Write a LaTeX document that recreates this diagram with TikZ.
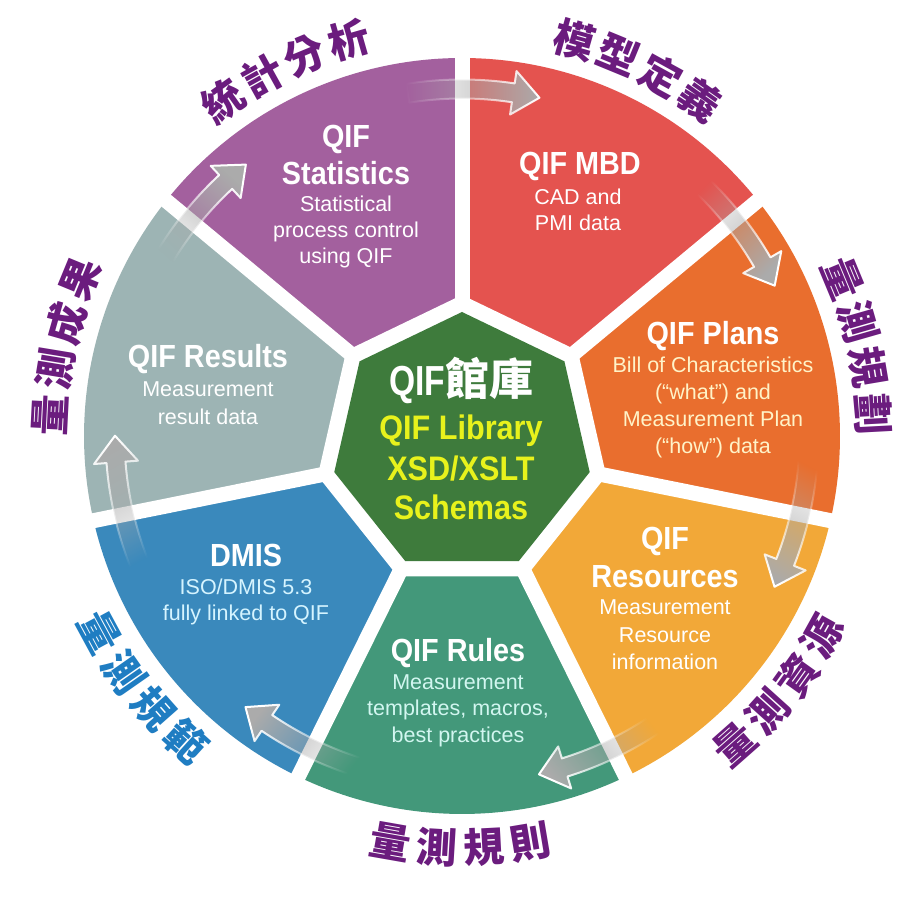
\documentclass[tikz,border=0pt]{standalone}
\usepackage{fontspec}
\setmainfont{Liberation Sans}
\newfontfamily\titlef[FakeStretch=0.9]{Liberation Sans}
\newfontfamily\ctitlef[FakeStretch=0.8]{Liberation Sans}
\newfontfamily\cjkf{Noto Sans CJK TC}
\usetikzlibrary{fadings}
\definecolor{cstat}{HTML}{A3609E}
\definecolor{cmbd}{HTML}{E4534F}
\definecolor{cplans}{HTML}{E96E2E}
\definecolor{cres}{HTML}{F2A838}
\definecolor{crules}{HTML}{43987A}
\definecolor{cdmis}{HTML}{3A89BC}
\definecolor{cresults}{HTML}{9DB4B4}
\definecolor{ccenter}{HTML}{3E7B3C}
\definecolor{cyel}{HTML}{E8F21C}
\definecolor{clab}{HTML}{6B1C7E}
\definecolor{cblue}{HTML}{1F7DC2}
\definecolor{arrgray}{HTML}{ABABAB}
\definecolor{tyel}{HTML}{FFF3C8}
\definecolor{tcyan}{HTML}{D2F6F0}
\definecolor{tcyanb}{HTML}{D5F4FF}
\tikzfading[name=arrfade, left color=transparent!100, middle color=transparent!40, right color=transparent!0]
\tikzset{
 ttl/.style={font=\titlef\bfseries\fontsize{32}{36}\selectfont, text=white, anchor=base, inner sep=0pt},
 bdy/.style={font=\fontsize{21.5}{26}\selectfont, text=white, anchor=base, inner sep=0pt},
 ctr/.style={font=\titlef\bfseries\fontsize{34}{38}\selectfont, text=cyel, anchor=base, inner sep=0pt},
 lab/.style={font=\cjkf\bfseries\fontsize{41}{45}\selectfont, text=clab, inner sep=0pt},
 arrowshape/.style={fill=arrgray, draw=white, line width=2pt, line join=round},
}
\newcommand\mkarclabel[5]{%
 \foreach \ch [count=\i] in {#5} {
   \pgfmathsetmacro\ang{#2 - #3*(\i-2.5)*6.5}
   \pgfmathsetmacro\rot{\ang - #3*90}
   \node[lab, text=#4, rotate=\rot] (#1-\i) at (\ang:412) {\ch};
 }}
\begin{document}
\begin{tikzpicture}[x=1pt,y=1pt]
\fill[white] (0,0) rectangle (900,900);
\useasboundingbox (0,0) rectangle (900,900);
\begin{scope}[shift={(462,464)}]
 % sectors
 \foreach \a/\b/\c in {90/38.571/cmbd, 38.571/-12.857/cplans, -12.857/-64.286/cres,
   -64.286/-115.714/crules, -115.714/-167.143/cdmis, -167.143/-218.571/cresults, -218.571/-270/cstat}
   \fill[\c] (0,-7) -- (\a:378) arc[start angle=\a, end angle=\b, radius=378] -- cycle;
 % dividers
 \foreach \a in {90,38.571,-12.857,-64.286,-115.714,-167.143,-218.571}
   \draw[white, line width=15pt] ([shift={(0,-7)}]\a:131) -- (\a:400);
 % heptagon band and core
 \fill[white] ([shift={(0,-7)}]90:148) \foreach \k in {1,...,6} { -- ([shift={(0,-7)}]{90+\k*360/7}:148) } -- cycle;
 \fill[ccenter] ([shift={(0,-7)}]90:131) \foreach \k in {1,...,6} { -- ([shift={(0,-7)}]{90+\k*360/7}:131) } -- cycle;
 % arrows
 \foreach \d in {90,38.571,-12.857,-64.286,-115.714,-167.143,-218.571} {
   \pgfmathsetmacro\ta{\d+9}
   \pgfmathsetmacro\hb{\d-8.5}
   \pgfmathsetmacro\tp{\d-12.9}
   \pgfmathsetmacro\fa{\d-90}
   \path[arrowshape, path fading=arrfade, fading angle=\fa]
     (\ta:356.5) arc[start angle=\ta, end angle=\hb, radius=356.5]
     -- (\hb:369) -- (\tp:347) -- (\hb:325) -- (\hb:337.5)
     arc[start angle=\hb, end angle=\ta, radius=337.5] -- cycle;
 }
 % outer labels
 \mkarclabel{lstat}{115.7}{1}{clab}{統,計,分,析}
 \mkarclabel{lmbd}{64.4}{1}{clab}{模,型,定,義}
 \mkarclabel{lplan}{12.8}{1}{clab}{量,測,規,劃}
 \mkarclabel{lres}{-38.8}{-1}{clab}{量,測,資,源}
 \mkarclabel{lrule}{-90.2}{-1}{clab}{量,測,規,則}
 \mkarclabel{ldmis}{-141.8}{-1}{cblue}{量,測,規,範}
 \mkarclabel{lresu}{167.4}{1}{clab}{量,測,成,果}
\end{scope}
% Statistics
\node[ttl] (s1) at (346,752) {QIF};
\node[ttl] (s2) at (346,715) {Statistics};
\node[bdy] (s3) at (346,688) {Statistical};
\node[bdy] (s4) at (346,662) {process control};
\node[bdy] (s5) at (346,636) {using QIF};
% MBD
\node[ttl] (m1) at (580,725) {QIF MBD};
\node[bdy] (m2) at (578,695) {CAD and};
\node[bdy] (m3) at (578,669) {PMI data};
% Plans
\node[ttl] (p1) at (713,555) {QIF Plans};
\node[bdy, text=tyel] (p2) at (713,527) {Bill of Characteristics};
\node[bdy, text=tyel] (p3) at (713,500.5) {(“what”) and};
\node[bdy, text=tyel] (p4) at (713,473) {Measurement Plan};
\node[bdy, text=tyel] (p5) at (713,446) {(“how”) data};
% Resources
\node[ttl] (r1) at (665,350) {QIF};
\node[ttl] (r2) at (665,312) {Resources};
\node[bdy] (r3) at (665,285) {Measurement};
\node[bdy] (r4) at (665,257) {Resource};
\node[bdy] (r5) at (665,230) {information};
% Rules
\node[ttl] (u1) at (458,238) {QIF Rules};
\node[bdy, text=tcyan] (u2) at (458,210) {Measurement};
\node[bdy, text=tcyan] (u3) at (458,184) {templates, macros,};
\node[bdy, text=tcyan] (u4) at (458,157) {best practices};
% DMIS
\node[ttl] (d1) at (246,333) {DMIS};
\node[bdy, text=tcyanb] (d2) at (246,305) {ISO/DMIS 5.3};
\node[bdy, text=tcyanb] (d3) at (246,279) {fully linked to QIF};
% Results
\node[ttl] (q1) at (208,532) {QIF Results};
\node[bdy] (q2) at (208,503) {Measurement};
\node[bdy] (q3) at (208,475) {result data};
% Center
\node[anchor=base, inner sep=0pt, text=white] (c1) at (461,504)
  {{\ctitlef\bfseries\fontsize{42}{46}\selectfont QIF}{\cjkf\bfseries\fontsize{44}{48}\selectfont 館庫}};
\node[ctr] (c2) at (461,460) {QIF Library};
\node[ctr] (c3) at (461,419) {XSD/XSLT};
\node[ctr] (c4) at (461,380) {Schemas};
\end{tikzpicture}
\end{document}
